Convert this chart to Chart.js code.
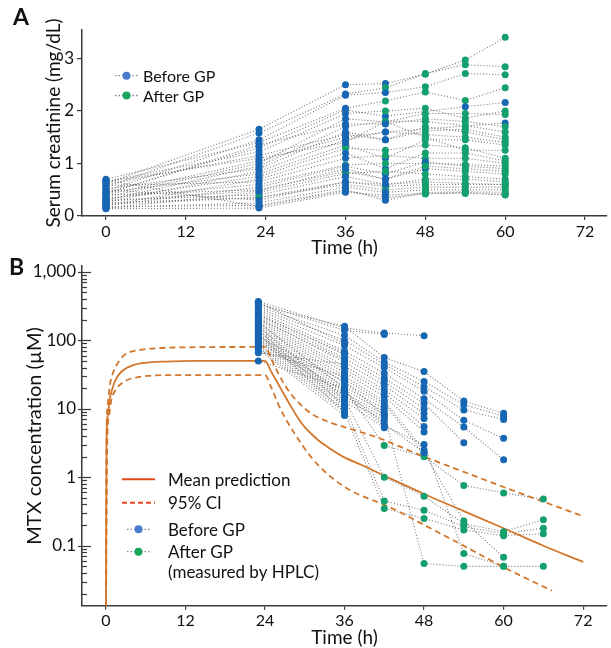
<!DOCTYPE html>
<html>
<head>
<meta charset="utf-8">
<script src="https://cdn.jsdelivr.net/npm/chart.js@4.4.0/dist/chart.umd.min.js"></script>
<style>
  html, body { margin: 0; padding: 0; background: #fff; }
  #wrap { position: relative; width: 611px; height: 648px; overflow: hidden; }
  canvas { position: absolute; left: 0; }
  #chartA { top: 0; width: 611px; height: 262px; }
  #chartB { top: 250px; width: 611px; height: 398px; }
  .tag { position: absolute; font: bold 23px Lato, sans-serif; color: #111; }
</style>
</head>
<body>
<div id="wrap">
  <canvas id="chartA" width="611" height="262"></canvas>
  <canvas id="chartB" width="611" height="398"></canvas>
  <div class="tag" style="left:13px; top:2px;">A</div>
  <div class="tag" style="left:9px; top:252px;">B</div>
</div>
<script>
// ---------- data: panel A (serum creatinine, mg/dL) ----------
const timesA = [0, 23, 36, 42, 48, 54, 60];
const creatinine = [
  [0.62, 1.65, 2.50, 2.52, 2.70, 2.97, 3.40],
  [0.55, 1.58, 2.32, 2.44, 2.71, 2.88, 2.84],
  [0.48, 1.45, 2.30, 2.35, 2.46, 2.71, 2.69],
  [0.70, 1.40, 2.05, 2.19, 2.36, 2.20, 2.44],
  [0.44, 1.30, 2.02, 1.90, null, 2.08, 2.16],
  [0.66, 1.22, 1.95, 2.00, 2.05, 1.86, 2.00],
  [0.40, 1.05, 1.50, 1.60, null, null, 1.77],
  [0.36, 1.00, 1.85, 1.79, 1.95, 1.95, 1.93],
  [0.30, 0.95, 1.70, 1.80, 1.80, 1.72, 1.60],
  [0.52, 0.90, 1.60, 1.45, 1.62, 1.65, 1.50],
  [0.26, 0.85, 1.45, 1.60, 1.55, 1.50, 1.40],
  [0.45, 0.80, 1.35, 1.10, 1.45, 1.45, 1.35],
  [0.32, 0.75, 1.29, 1.25, 1.35, 1.30, 1.10],
  [0.20, 0.70, 1.20, 0.90, 1.20, 1.20, 1.05],
  [0.58, 0.65, 1.10, 1.15, 1.10, 1.10, 1.00],
  [0.34, 0.60, 0.97, 1.00, 1.00, 0.98, 0.95],
  [0.20, 0.55, 0.95, 0.80, 1.03, 0.95, 0.90],
  [0.40, 0.50, 0.85, 0.70, 0.90, 0.85, 0.80],
  [0.15, 0.45, 0.81, 0.85, 0.80, 0.75, 0.70],
  [0.30, 0.40, 0.75, 0.60, 0.70, 0.70, 0.65],
  [0.22, 0.35, 0.65, 0.56, 0.60, 0.60, 0.60],
  [0.25, 0.35, 0.60, 0.50, 0.55, 0.55, 0.55],
  [0.16, 0.25, 0.55, 0.45, 0.50, 0.50, 0.50],
  [0.18, 0.20, 0.50, 0.30, 0.45, 0.46, 0.45],
  [0.14, 0.15, 0.45, 0.40, 0.43, 0.43, 0.41],
  [0.60, 1.15, 1.55, 1.45, 1.70, 1.60, 1.45],
  [0.65, 1.10, 1.40, 1.80, 1.50, 1.25, 1.25],
  [0.28, 0.48, 0.90, 0.70, 0.95, 0.90, 0.85],
  [0.50, 0.30, 0.65, 0.60, 0.65, 0.62, 0.60],
  [0.42, 1.35, 1.75, 1.75, 1.85, 1.80, 1.70],
  [0.68, 0.18, 0.48, 0.35, 0.42, 0.45, 0.40]
];
// index of the first sample taken after GP (7 = never)
const gpStartA = [4, 3, 4, 3, 7, 3, 7, 3, 4, 4, 4, 4, 2, 4, 3, 2, 5, 5, 2, 4, 3, 1, 4, 4, 4, 4, 3, 4, 4, 4, 4];

// ---------- data: panel B (MTX concentration, uM) ----------
const timesB = [23, 36, 42, 48, 54, 60, 66];
const mtx = [
  [370, 152, 128, 117, null, null, null],
  [345, 140, 122, null, null, null, null],
  [325, 160, 56, 35, 13, 8.6, null],
  [310, 118, 48, 25, 11.5, 7.8, null],
  [292, 100, 44, 21, 9.6, 7.0, null],
  [276, 84, 40, 18, 6.8, 3.7, null],
  [258, 70, 33, 14, 5.4, 1.8, null],
  [242, 62, 28, 12, 3.2, null, null],
  [228, 55, 25, 10, null, null, null],
  [214, 48, 22, 8.5, null, null, null],
  [200, 42, 19, 7.2, null, null, null],
  [188, 38, 17, 5.5, null, null, null],
  [176, 34, 15, 4.6, null, null, null],
  [166, 30, 13, 2.5, null, null, null],
  [156, 27, 12, 2.2, null, null, null],
  [146, 24, 11, null, null, null, null],
  [138, 21, 10, null, null, null, null],
  [130, 19, 9, null, null, null, null],
  [122, 17, 8.2, null, null, null, null],
  [115, 15.5, 7.5, null, null, null, null],
  [108, 14, 6.8, null, null, null, null],
  [101, 13, 5.3, null, null, null, null],
  [95, 12, null, null, null, null, null],
  [89, 11, null, null, null, null, null],
  [84, 10, null, null, null, null, null],
  [79, 9, null, null, null, null, null],
  [74, 8, null, null, null, null, null],
  [70, 30, null, null, null, null, null],
  [66, 45, null, null, null, null, null],
  [50, 20, null, null, null, null, null],
  [360, 90, null, null, null, null, null],
  [235, 65, null, null, null, null, null],
  [205, 52, null, null, null, null, null],
  [185, 20, 2.9, 2.0, 0.76, 0.59, 0.48],
  [160, 14, 1.0, 0.53, 0.21, 0.16, 0.24],
  [142, 11, 0.45, 0.33, 0.19, 0.15, 0.18],
  [125, 9, 0.35, 0.25, 0.17, 0.14, 0.15],
  [112, 25, 8, 0.055, 0.05, 0.05, 0.05],
  [104, 18, 6, 2.3, 0.23, 0.068, null],
  [96, 16, 5.6, 3, 0.077, 0.05, null]
];
const gpStartB = [7, 7, 7, 7, 7, 7, 7, 7, 7, 7, 7, 7, 7, 7, 7, 7, 7, 7, 7, 7,
                  7, 7, 7, 7, 7, 7, 7, 7, 7, 7, 7, 7, 7, 2, 2, 2, 2, 3, 4, 4];

// model prediction (mean and 95% CI)
const meanT = [0, 0.1, 0.3, 0.6, 1, 1.6, 2.5, 4, 6, 9, 14, 24, 25, 26, 27, 28, 29, 30, 31, 32, 33.5, 36, 38.5, 42.5, 48, 54, 60, 66, 72];
const meanC = [0.005, 3, 8, 14, 20, 28, 36, 43, 47, 49, 50, 50, 34, 23, 15.5, 10.5, 7.3, 5.4, 4.3, 3.5, 2.75, 1.95, 1.52, 1.0, 0.57, 0.32, 0.18, 0.1, 0.058];
const upperT = [0, 0.1, 0.3, 0.6, 1, 2, 3, 5, 8, 12, 24, 25, 26, 27, 28, 29, 31, 33.5, 36, 41, 46, 48, 54, 60, 66, 72];
const upperC = [0.005, 4, 12, 22, 32, 50, 63, 72, 77, 79, 80, 52, 33, 22, 16, 12.5, 8.5, 6.5, 5.4, 3.8, 2.4, 2.0, 1.2, 0.72, 0.44, 0.27];
const lowerT = [0, 0.2, 0.5, 0.8, 1.5, 2.5, 3.5, 6, 10, 24, 25, 26, 27, 28.5, 31, 33.5, 36.8, 42.7, 48.5, 54.4, 60.3, 67.3];
const lowerC = [0.005, 3, 8, 13, 19, 24, 27, 30, 31, 31, 20, 11.7, 7.5, 4.3, 1.95, 1.1, 0.65, 0.37, 0.19, 0.095, 0.047, 0.022];

const xTicks = [0, 12, 24, 36, 48, 60, 72];
const yTicksA = [0, 1, 2, 3];
const decadesB = [0.01, 0.1, 1, 10, 100, 1000];
const labelledB = [0.1, 1, 10, 100, 1000];

// ---------- styles ----------
const FONT = 'Lato, "Open Sans", sans-serif';
const AXIS = '#3a3a3a';
const BLUE = '#1766b4';
const GREEN = '#14a06c';
const DOT_LINE = 'rgba(105,105,110,0.9)';
const CURVE = '#d2762c';
const LEG_RED = '#e2461c';

function patientLines(times, rows) {
  return rows.map(r => ({
    type: 'line',
    data: times.map((t, i) => ({ x: t, y: r[i] })).filter(p => p.y !== null),
    borderColor: DOT_LINE,
    borderWidth: 1.1,
    borderDash: [1, 2],
    pointRadius: 0,
    fill: false,
    order: 3
  }));
}

function patientPoints(times, rows, gp) {
  const data = [], colors = [];
  rows.forEach((r, k) => r.forEach((v, i) => {
    if (v === null) return;
    data.push({ x: times[i], y: v });
    colors.push(i >= gp[k] ? GREEN : BLUE);
  }));
  return {
    type: 'scatter', data,
    pointBackgroundColor: colors, pointBorderWidth: 0, pointRadius: 3.5,
    showLine: false, order: 1
  };
}

function curve(ts, cs, dash) {
  return {
    type: 'line',
    data: ts.map((t, i) => ({ x: t, y: cs[i] })),
    borderColor: CURVE, borderWidth: 1.8, borderDash: dash,
    pointRadius: 0, fill: false, cubicInterpolationMode: 'monotone', order: 2
  };
}

function drawLegendRow(ctx, y, kind, color, x0) {
  ctx.save();
  if (kind === 'solid' || kind === 'dash') {
    ctx.strokeStyle = LEG_RED; ctx.lineWidth = 2;
    ctx.setLineDash(kind === 'dash' ? [5, 3] : []);
    ctx.beginPath(); ctx.moveTo(x0, y); ctx.lineTo(x0 + 33, y); ctx.stroke();
  } else if (kind === 'dot') {
    ctx.strokeStyle = 'rgba(110,125,150,0.9)'; ctx.lineWidth = 1.3; ctx.setLineDash([1.5, 2]);
    ctx.beginPath(); ctx.moveTo(x0, y); ctx.lineTo(x0 + 23, y); ctx.stroke();
    ctx.setLineDash([]);
    ctx.fillStyle = color;
    ctx.beginPath(); ctx.arc(x0 + 11.5, y, 4, 0, Math.PI * 2); ctx.fill();
  }
  ctx.restore();
}

const commonX = (max) => ({
  type: 'linear', min: -3.6, max: max,
  afterBuildTicks: s => { s.ticks = xTicks.map(v => ({ value: v })); },
  border: { display: true, color: AXIS, width: 1.5 },
  grid: { display: true, drawOnChartArea: false, drawTicks: true, tickLength: 4, color: AXIS, lineWidth: 1.2 },
  ticks: { color: '#111', font: { family: FONT, size: 16 }, padding: 2, maxRotation: 0, autoSkip: false }
});

// ---------- panel A ----------
const legendA = {
  id: 'legendA',
  afterDraw(chart) {
    const ctx = chart.ctx;
    [[75.7, '#4a7bcc', 'Before GP'], [95.5, '#1aa65c', 'After GP']].forEach(([y, c, t]) => {
      drawLegendRow(ctx, y, 'dot', c, 115);
      ctx.save();
      ctx.fillStyle = '#111'; ctx.font = '16px ' + FONT; ctx.textBaseline = 'middle';
      ctx.fillText(t, 143, y + 1);
      ctx.restore();
    });
  }
};

new Chart(document.getElementById('chartA'), {
  type: 'line',
  data: { datasets: [...patientLines(timesA, creatinine), patientPoints(timesA, creatinine, gpStartA)] },
  options: {
    responsive: false, animation: false,
    layout: { padding: { top: 30, right: 3, left: 0, bottom: 0 } },
    plugins: { legend: { display: false }, tooltip: { enabled: false } },
    scales: {
      x: Object.assign(commonX(75.3), {
        afterFit: s => { s.height = 46; },
        title: { display: true, text: 'Time (h)', color: '#111', font: { family: FONT, size: 19, lineHeight: 1 }, padding: { top: 0, bottom: 5 } }
      }),
      y: {
        type: 'linear', min: 0, max: 3.54,
        afterBuildTicks: s => { s.ticks = yTicksA.map(v => ({ value: v })); },
        afterFit: s => { s.width = 82; },
        border: { display: true, color: AXIS, width: 1.5 },
        grid: { display: true, drawOnChartArea: false, tickLength: 5, color: AXIS, lineWidth: 1.2 },
        ticks: { color: '#111', font: { family: FONT, size: 17 }, padding: 3 },
        title: { display: true, text: 'Serum creatinine (mg/dL)', color: '#111', font: { family: FONT, size: 19 }, padding: { top: 42, bottom: 0 } }
      }
    }
  },
  plugins: [legendA]
});

// ---------- panel B ----------
const logTicks = [];
decadesB.forEach(d => [1, 2, 3, 4, 5, 6, 7, 8, 9].forEach(m => {
  const v = +(d * m).toPrecision(3);
  if (v >= 0.0133 && v <= 1210) logTicks.push(v);
}));

const ticksAndLegendB = {
  id: 'ticksAndLegendB',
  afterDraw(chart) {
    const ctx = chart.ctx, ys = chart.scales.y, x0 = chart.chartArea.left;
    ctx.save();
    ctx.strokeStyle = AXIS; ctx.lineWidth = 1.2;
    logTicks.forEach(v => {
      const p = Math.round(ys.getPixelForValue(v)) + 0.5;
      const major = decadesB.includes(v);
      ctx.beginPath();
      ctx.moveTo(major ? x0 - 4 : x0, p);
      ctx.lineTo(major ? x0 + 9 : x0 + 5, p);
      ctx.stroke();
    });
    ctx.restore();

    const rows = [
      [229.3, 'solid', null, 'Mean prediction'],
      [252.7, 'dash', null, '95% CI'],
      [279.3, 'dot', '#4a7bcc', 'Before GP'],
      [301.7, 'dot', '#1aa65c', 'After GP'],
      [321.7, 'none', null, '(measured by HPLC)']
    ];
    rows.forEach(([y, kind, c, t]) => {
      drawLegendRow(ctx, y, kind, c, kind === 'dot' ? 127 : 122);
      ctx.save();
      ctx.fillStyle = '#111'; ctx.font = '17px ' + FONT; ctx.textBaseline = 'middle';
      ctx.fillText(t, 168, y + 1);
      ctx.restore();
    });
  }
};

new Chart(document.getElementById('chartB'), {
  type: 'line',
  data: {
    datasets: [
      ...patientLines(timesB, mtx),
      curve(meanT, meanC, []),
      curve(upperT, upperC, [6, 4]),
      curve(lowerT, lowerC, [6, 4]),
      patientPoints(timesB, mtx, gpStartB)
    ]
  },
  options: {
    responsive: false, animation: false,
    layout: { padding: { top: 15, right: 0, left: 0, bottom: 0 } },
    plugins: { legend: { display: false }, tooltip: { enabled: false } },
    scales: {
      x: Object.assign(commonX(75.6), {
        afterFit: s => { s.height = 42.3; },
        title: { display: true, text: 'Time (h)', color: '#111', font: { family: FONT, size: 19, lineHeight: 1 }, padding: { top: 0, bottom: 0.5 } }
      }),
      y: {
        type: 'logarithmic', min: 0.0133, max: 1210,
        afterBuildTicks: s => { s.ticks = logTicks.map(v => ({ value: v })); },
        afterFit: s => { s.width = 82; },
        border: { display: true, color: AXIS, width: 1.5 },
        grid: { display: true, drawOnChartArea: false, drawTicks: false },
        ticks: {
          color: '#111', font: { family: FONT, size: 17 }, padding: 6, autoSkip: false,
          callback: v => labelledB.includes(v) ? v.toLocaleString('en-US') : ''
        },
        title: { display: true, text: 'MTX concentration (\u00b5M)', color: '#111', font: { family: FONT, size: 20 }, padding: { top: 23, bottom: 0 } }
      }
    }
  },
  plugins: [ticksAndLegendB]
});
</script>
</body>
</html>
